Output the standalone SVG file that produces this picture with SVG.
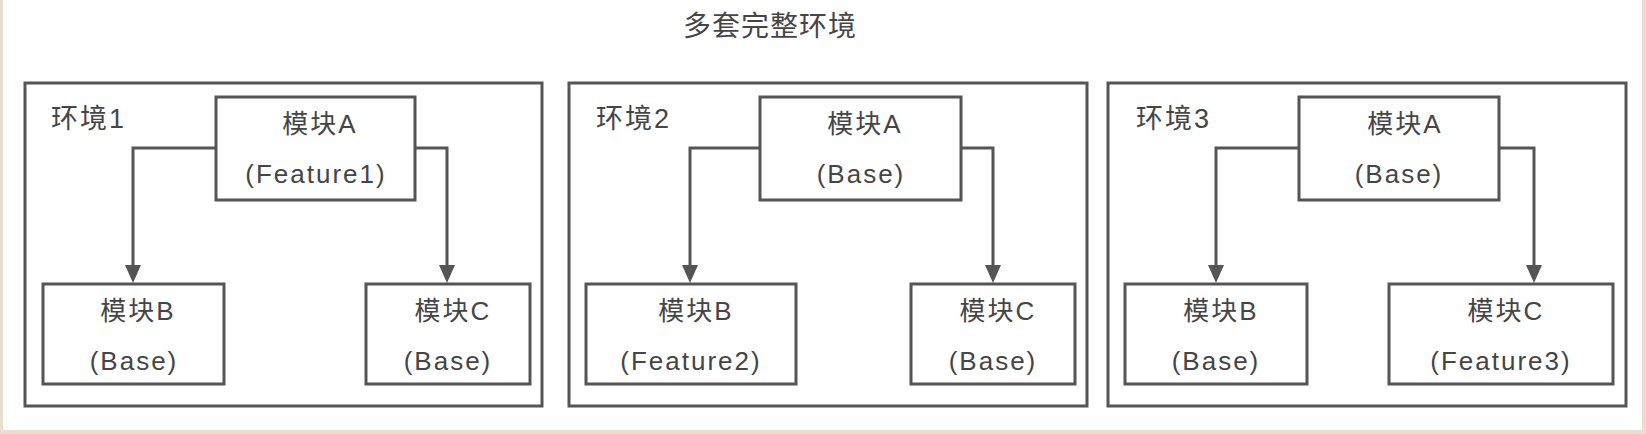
<svg xmlns="http://www.w3.org/2000/svg" width="1646" height="434" viewBox="0 0 1646 434">
  <style>
    .env { fill: none; stroke: #555; stroke-width: 3; }
    .mod { fill: #fff; stroke: #555; stroke-width: 3; }
    .conn { fill: none; stroke: #555; stroke-width: 3; marker-end: url(#arrow); }
    .t { font-family: "Liberation Sans", "Noto Sans CJK SC", sans-serif; fill: #454545; }
    .title { font-size: 28px; letter-spacing: 1px; text-anchor: middle; }
    .lbl { font-size: 27px; letter-spacing: 2px; }
    .m { font-size: 26px; letter-spacing: 2px; text-anchor: middle; }
    .frame { fill: #e9dfcd; }
  </style>
  <defs>
    <marker id="arrow" viewBox="0 0 18 16" refX="4" refY="8" markerWidth="18" markerHeight="16" markerUnits="userSpaceOnUse" orient="auto">
      <path d="M0,0 L18,8 L0,16 z" fill="#555"/>
    </marker>
  </defs>
  <rect x="0" y="0" width="1646" height="434" fill="#fff"/>
  <rect class="frame" x="0" y="0" width="3" height="434"/>
  <rect class="frame" x="1642" y="0" width="4" height="434"/>
  <rect class="frame" x="0" y="430" width="1646" height="4"/>

  <text class="t title" x="770" y="36">多套完整环境</text>

  <g id="env1">
    <rect class="env" x="25" y="83" width="517" height="323"/>
    <text class="t lbl" x="51" y="128">环境1</text>
  </g>
  <g id="env1-modA">
    <rect class="mod" x="216" y="97" width="199" height="103"/>
    <text class="t m" x="320" y="133">模块A</text>
    <text class="t m" x="316" y="183">(Feature1)</text>
  </g>
  <g id="env1-modB">
    <rect class="mod" x="43" y="284" width="181" height="100"/>
    <text class="t m" x="138" y="320">模块B</text>
    <text class="t m" x="134" y="370">(Base)</text>
  </g>
  <g id="env1-modC">
    <rect class="mod" x="366" y="284" width="164" height="100"/>
    <text class="t m" x="453" y="320">模块C</text>
    <text class="t m" x="448" y="370">(Base)</text>
  </g>

  <g id="env2">
    <rect class="env" x="569" y="83" width="518" height="323"/>
    <text class="t lbl" x="596" y="128">环境2</text>
  </g>
  <g id="env2-modA">
    <rect class="mod" x="760" y="97" width="201" height="103"/>
    <text class="t m" x="865" y="133">模块A</text>
    <text class="t m" x="861" y="183">(Base)</text>
  </g>
  <g id="env2-modB">
    <rect class="mod" x="586" y="284" width="210" height="100"/>
    <text class="t m" x="696" y="320">模块B</text>
    <text class="t m" x="691" y="370">(Feature2)</text>
  </g>
  <g id="env2-modC">
    <rect class="mod" x="911" y="284" width="164" height="100"/>
    <text class="t m" x="998" y="320">模块C</text>
    <text class="t m" x="993" y="370">(Base)</text>
  </g>

  <g id="env3">
    <rect class="env" x="1108" y="83" width="518" height="323"/>
    <text class="t lbl" x="1136" y="128">环境3</text>
  </g>
  <g id="env3-modA">
    <rect class="mod" x="1299" y="97" width="200" height="103"/>
    <text class="t m" x="1405" y="133">模块A</text>
    <text class="t m" x="1399" y="183">(Base)</text>
  </g>
  <g id="env3-modB">
    <rect class="mod" x="1125" y="284" width="182" height="100"/>
    <text class="t m" x="1221" y="320">模块B</text>
    <text class="t m" x="1216" y="370">(Base)</text>
  </g>
  <g id="env3-modC">
    <rect class="mod" x="1389" y="284" width="224" height="100"/>
    <text class="t m" x="1506" y="320">模块C</text>
    <text class="t m" x="1501" y="370">(Feature3)</text>
  </g>

  <g id="connectors">
    <path class="conn" d="M216,148 H133 V269"/>
    <path class="conn" d="M415,148 H447 V269"/>
    <path class="conn" d="M760,148 H690 V269"/>
    <path class="conn" d="M961,148 H993 V269"/>
    <path class="conn" d="M1299,148 H1216 V269"/>
    <path class="conn" d="M1499,148 H1534 V269"/>
  </g>
</svg>
